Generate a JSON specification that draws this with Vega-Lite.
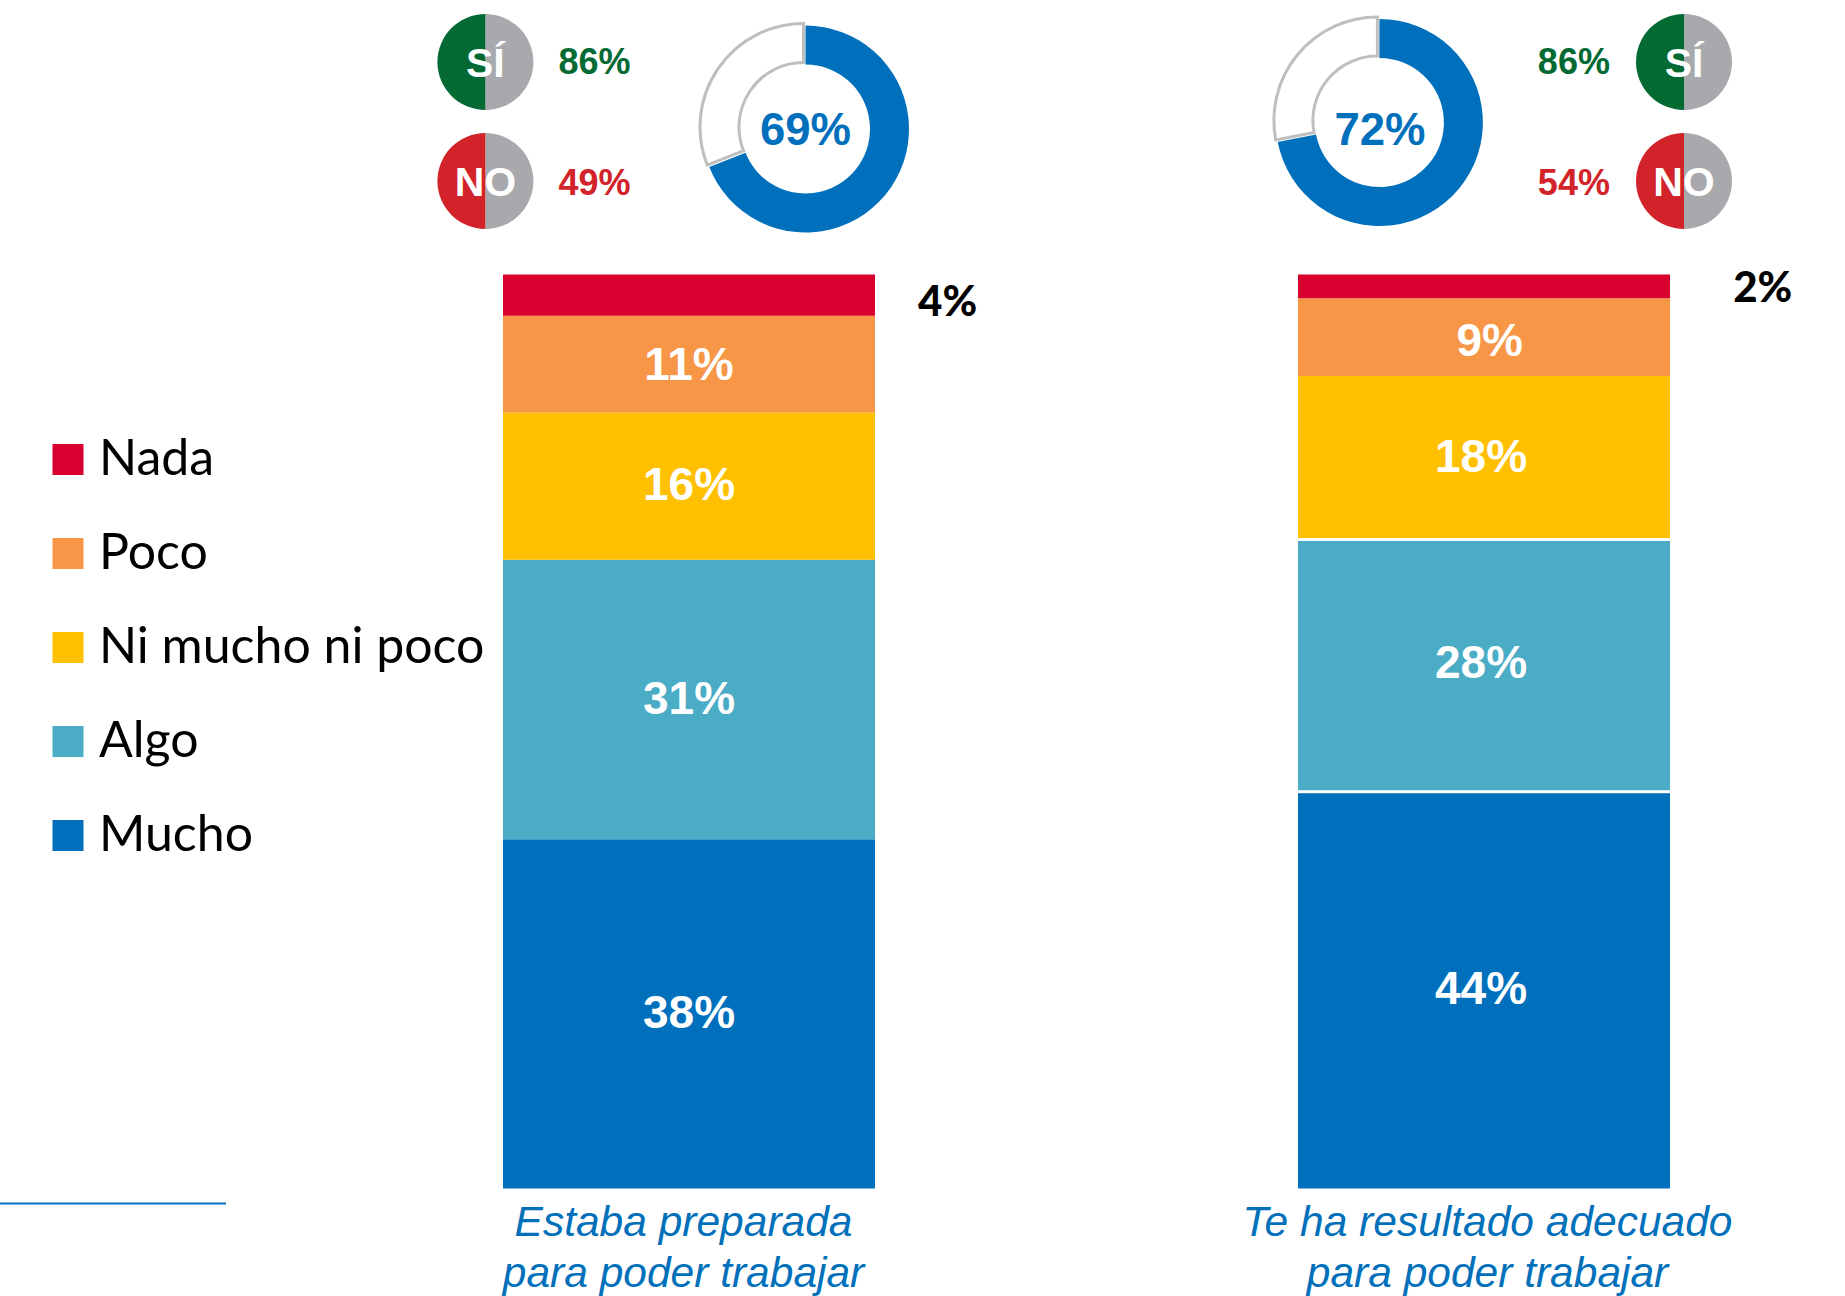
{
"$schema":"https://vega.github.io/schema/vega-lite/v6.json",
"width":1845,"height":914,
"autosize":{"type":"none"},
"padding":{"left":0,"top":274.5,"right":0,"bottom":107.5},
"background":"white",
"config":{"view":{"stroke":null}},
"datasets":{
"barras":[
{"pregunta":"Estaba preparada para poder trabajar","categoria":"Mucho","orden":1,"pct":38.2,"etiqueta":"38%"},
{"pregunta":"Estaba preparada para poder trabajar","categoria":"Algo","orden":2,"pct":30.6,"etiqueta":"31%"},
{"pregunta":"Estaba preparada para poder trabajar","categoria":"Ni mucho ni poco","orden":3,"pct":16.1,"etiqueta":"16%"},
{"pregunta":"Estaba preparada para poder trabajar","categoria":"Poco","orden":4,"pct":10.6,"etiqueta":"11%"},
{"pregunta":"Estaba preparada para poder trabajar","categoria":"Nada","orden":5,"pct":4.5,"etiqueta":"4%"},
{"pregunta":"Te ha resultado adecuado para poder trabajar","categoria":"Mucho","orden":1,"pct":43.4,"etiqueta":"44%"},
{"pregunta":"Te ha resultado adecuado para poder trabajar","categoria":"Algo","orden":2,"pct":27.6,"etiqueta":"28%"},
{"pregunta":"Te ha resultado adecuado para poder trabajar","categoria":"Ni mucho ni poco","orden":3,"pct":17.9,"etiqueta":"18%"},
{"pregunta":"Te ha resultado adecuado para poder trabajar","categoria":"Poco","orden":4,"pct":8.5,"etiqueta":"9%"},
{"pregunta":"Te ha resultado adecuado para poder trabajar","categoria":"Nada","orden":5,"pct":2.6,"etiqueta":"2%"}
],
"cortes":[
{"pregunta":"Te ha resultado adecuado para poder trabajar","limite":43.4},
{"pregunta":"Te ha resultado adecuado para poder trabajar","limite":71.0}
],
"grupos":[
{"pregunta":"Estaba preparada para poder trabajar","grupo":"Sí","texto":"SÍ","valor":"86%"},
{"pregunta":"Estaba preparada para poder trabajar","grupo":"No","texto":"NO","valor":"49%"},
{"pregunta":"Te ha resultado adecuado para poder trabajar","grupo":"Sí","texto":"SÍ","valor":"86%"},
{"pregunta":"Te ha resultado adecuado para poder trabajar","grupo":"No","texto":"NO","valor":"54%"}
],
"anillos":[
{"pregunta":"Estaba preparada para poder trabajar","inicio":0,"total":69,"fin":100,"valor":"69%"},
{"pregunta":"Te ha resultado adecuado para poder trabajar","inicio":0,"total":72,"fin":100,"valor":"72%"}
]
},
"encoding":{
"x":{"field":"pregunta","type":"nominal","title":null,
"scale":{"type":"point","domain":["Estaba preparada para poder trabajar","Te ha resultado adecuado para poder trabajar"],"range":[689,1484],"padding":0},
"axis":{"domain":false,"ticks":false,"labelAngle":0,"labelFont":"Liberation Sans","labelFontSize":42.5,"labelFontStyle":"italic","labelColor":"#0070BA","labelPadding":12.5,"labelLineHeight":51,"labelLimit":0,"labelBaseline":"top",
"labelExpr":"split(replace(datum.label,' para poder','|para poder'),'|')",
"labelOffset":{"expr":"datum.value=='Estaba preparada para poder trabajar'?-6:3"}}}
},
"layer":[
{"data":{"name":"barras"},
"mark":{"type":"bar","width":372},
"encoding":{
"y":{"field":"pct","type":"quantitative","stack":"zero","scale":{"domain":[0,100]},"axis":null},
"order":{"field":"orden","type":"quantitative"},
"color":{"field":"categoria","type":"nominal",
"scale":{"domain":["Nada","Poco","Ni mucho ni poco","Algo","Mucho"],"range":["#D7002E","#F79646","#FFC000","#4BACC6","#0070BC"]},
"legend":{"title":null,"orient":"none","legendX":43,"legendY":160,"symbolType":"square","symbolSize":961,"symbolStrokeWidth":0,"symbolOpacity":1,"labelFont":"Lato","labelFontSize":50,"labelColor":"#000000","labelOffset":6,"labelLimit":0,"rowPadding":44,"padding":0}}
}},
{"data":{"name":"cortes"},
"mark":{"type":"tick","size":372,"thickness":3,"color":"white","opacity":1},
"encoding":{"y":{"field":"limite","type":"quantitative","scale":{"domain":[0,100]},"axis":null}}},
{"data":{"name":"barras"},
"transform":[{"filter":"datum.categoria!='Nada'"}],
"mark":{"type":"text","font":"Liberation Sans","fontWeight":"bold","fontSize":46,"color":"white","baseline":"middle","align":"center",
"xOffset":{"expr":"datum.pregunta=='Estaba preparada para poder trabajar'?0:(datum.categoria=='Poco'?5.7:-3)"},
"yOffset":{"expr":"datum.etiqueta=='9%'?5:(datum.etiqueta=='28%'?-2:(datum.etiqueta=='11%'?2:0))"}},
"encoding":{
"y":{"field":"pct","type":"quantitative","stack":"zero","bandPosition":0.5,"scale":{"domain":[0,100]},"axis":null},
"order":{"field":"orden","type":"quantitative"},
"detail":{"field":"categoria","type":"nominal"},
"text":{"field":"etiqueta","type":"nominal"}
}},
{"data":{"name":"barras"},
"transform":[{"filter":"datum.categoria=='Nada'"}],
"mark":{"type":"text","font":"Lato","fontWeight":900,"fontSize":42,"color":"#000000","baseline":"alphabetic","align":"center",
"xOffset":{"expr":"datum.pregunta=='Estaba preparada para poder trabajar'?258.6:278.7"},
"yOffset":{"expr":"datum.pregunta=='Estaba preparada para poder trabajar'?41:27"}},
"encoding":{"y":{"datum":100,"type":"quantitative","scale":{"domain":[0,100]},"axis":null},"text":{"field":"etiqueta","type":"nominal"}}},
{"data":{"name":"grupos"},
"mark":{"type":"arc","radius":48,"theta":0,"theta2":3.14159,"color":"#A7A9AC",
"xOffset":{"expr":"datum.pregunta=='Estaba preparada para poder trabajar'?-203.6:200"},
"yOffset":{"expr":"datum.grupo=='Sí'?-212.5:-93.5"}},
"encoding":{"y":{"datum":100,"type":"quantitative","scale":{"domain":[0,100]},"axis":null}}},
{"data":{"name":"grupos"},
"mark":{"type":"arc","radius":48,"theta":3.14159,"theta2":6.28319,
"xOffset":{"expr":"datum.pregunta=='Estaba preparada para poder trabajar'?-203.6:200"},
"yOffset":{"expr":"datum.grupo=='Sí'?-212.5:-93.5"}},
"encoding":{"y":{"datum":100,"type":"quantitative","scale":{"domain":[0,100]},"axis":null},
"fill":{"field":"grupo","type":"nominal","scale":{"domain":["Sí","No"],"range":["#036A33","#D2232A"]},"legend":null}}},
{"data":{"name":"grupos"},
"mark":{"type":"text","font":"Liberation Sans","fontWeight":"bold","fontSize":41,"color":"white","baseline":"alphabetic","align":"center",
"xOffset":{"expr":"datum.pregunta=='Estaba preparada para poder trabajar'?-203.6:200"},
"yOffset":{"expr":"datum.grupo=='Sí'?-197.5:-78.5"}},
"encoding":{"y":{"datum":100,"type":"quantitative","scale":{"domain":[0,100]},"axis":null},"text":{"field":"texto","type":"nominal"}}},
{"data":{"name":"grupos"},
"mark":{"type":"text","font":"Liberation Sans","fontWeight":"bold","fontSize":36,"baseline":"alphabetic","align":"center",
"xOffset":{"expr":"datum.pregunta=='Estaba preparada para poder trabajar'?-94.4:89.9"},
"yOffset":{"expr":"datum.grupo=='Sí'?-200.5:-79.5"}},
"encoding":{"y":{"datum":100,"type":"quantitative","scale":{"domain":[0,100]},"axis":null},"text":{"field":"valor","type":"nominal"},
"fill":{"field":"grupo","type":"nominal","scale":{"domain":["Sí","No"],"range":["#036A33","#D2232A"]},"legend":null}}},
{"data":{"name":"anillos"},
"mark":{"type":"arc","radius":103.5,"radius2":64.5,"color":"#0070BC",
"xOffset":{"expr":"datum.total==69?116.5:-104.6"},
"yOffset":{"expr":"datum.total==69?-145.5:-152"}},
"encoding":{"y":{"datum":100,"type":"quantitative","scale":{"domain":[0,100]},"axis":null},
"theta":{"field":"inicio","type":"quantitative","stack":null,"scale":{"domain":[0,100],"range":[0,6.28319]}},
"theta2":{"field":"total"}}},
{"data":{"name":"anillos"},
"mark":{"type":"arc","radius":103.5,"radius2":64.5,"fill":"white","stroke":"#BFBFBF","strokeWidth":3,
"xOffset":{"expr":"datum.total==69?114.5:-106.6"},
"yOffset":{"expr":"datum.total==69?-147.5:-154"}},
"encoding":{"y":{"datum":100,"type":"quantitative","scale":{"domain":[0,100]},"axis":null},
"theta":{"field":"total","type":"quantitative","stack":null,"scale":{"domain":[0,100],"range":[0,6.28319]}},
"theta2":{"field":"fin"}}},
{"data":{"name":"anillos"},
"mark":{"type":"text","font":"Liberation Sans","fontWeight":"bold","fontSize":45.5,"color":"#0070BC","baseline":"alphabetic","align":"center",
"xOffset":{"expr":"datum.total==69?116.5:-104"},"yOffset":-130},
"encoding":{"y":{"datum":100,"type":"quantitative","scale":{"domain":[0,100]},"axis":null},"text":{"field":"valor","type":"nominal"}}},
{"data":{"values":[{"pregunta":"Estaba preparada para poder trabajar"}]},
"mark":{"type":"tick","size":226,"thickness":2,"color":"#0070BC","opacity":1,"xOffset":-576,"yOffset":15},
"encoding":{"y":{"datum":0,"type":"quantitative","scale":{"domain":[0,100]},"axis":null}}}
]
}
